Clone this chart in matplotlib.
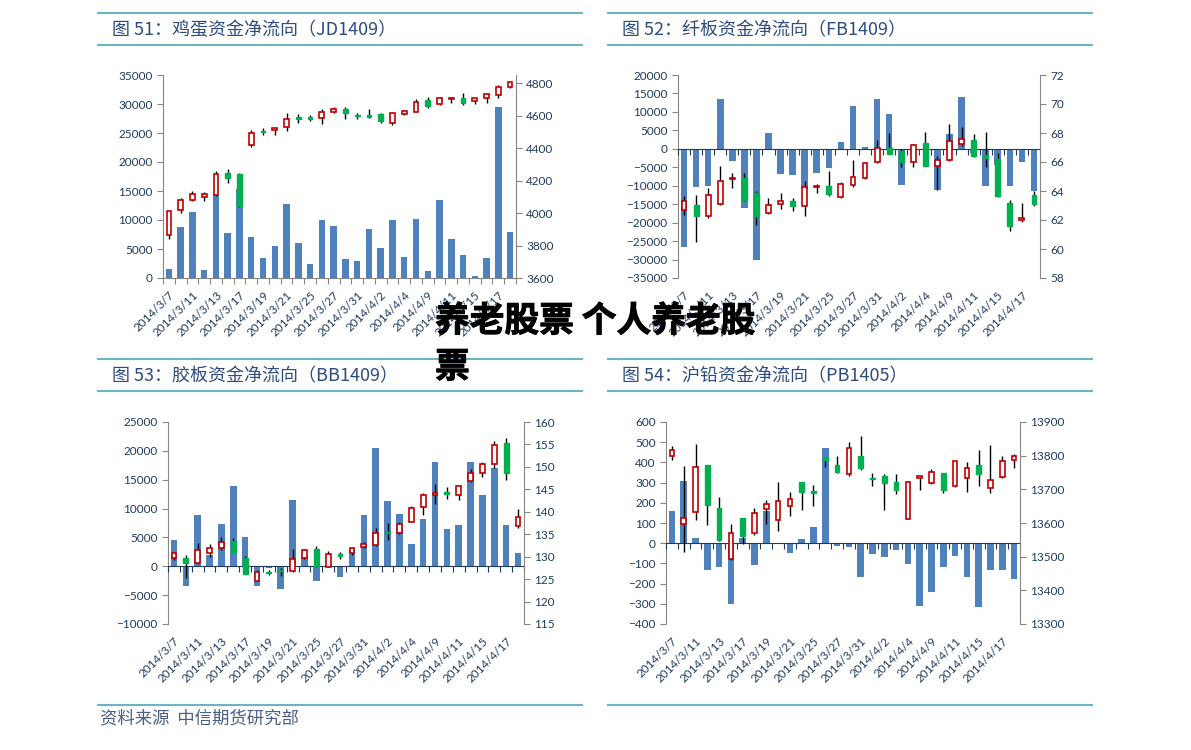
import matplotlib
matplotlib.use('Agg')
import matplotlib.pyplot as plt
import matplotlib.patheffects as pe
from matplotlib.lines import Line2D
import numpy as np

plt.rcParams['font.family'] = ['Lato', 'Noto Sans CJK SC', 'DejaVu Sans']

dates = ['2014/3/7', '2014/3/10', '2014/3/11', '2014/3/12', '2014/3/13', '2014/3/14',
         '2014/3/17', '2014/3/18', '2014/3/19', '2014/3/20', '2014/3/21', '2014/3/24',
         '2014/3/25', '2014/3/26', '2014/3/27', '2014/3/28', '2014/3/31', '2014/4/1',
         '2014/4/2', '2014/4/3', '2014/4/4', '2014/4/8', '2014/4/9', '2014/4/10',
         '2014/4/11', '2014/4/14', '2014/4/15', '2014/4/16', '2014/4/17', '2014/4/18']

# 图51 鸡蛋 JD1409
jd_flow = [1550, 8750, 11400, 1440, 14280, 7770, 15370, 7080, 3450, 5470, 12840, 6100, 2420, 9960, 8920,
           3280, 2880, 8520, 5240, 9960, 3630, 10190, 1150, 13470, 6740, 4030, 345, 3450, 29420, 7940]
jd_open = [3867, 4018, 4080, 4100, 4114, 4244, 4242, 4419, 4505, 4510, 4532, 4594, 4594, 4588, 4625,
           4643, 4606, 4606, 4608, 4557, 4608, 4625, 4697, 4670, 4701, 4711, 4691, 4711, 4728, 4779]
jd_close = [4012, 4080, 4119, 4119, 4238, 4217, 4042, 4495, 4499, 4524, 4582, 4578, 4582, 4625, 4639,
            4619, 4598, 4594, 4567, 4619, 4629, 4685, 4660, 4707, 4711, 4680, 4707, 4732, 4779, 4804]
jd_high = [4015, 4094, 4135, 4129, 4259, 4269, 4244, 4510, 4526, 4526, 4615, 4608, 4604, 4643, 4654,
           4654, 4619, 4643, 4619, 4625, 4633, 4701, 4715, 4715, 4715, 4738, 4711, 4736, 4787, 4808]
jd_low = [3841, 4001, 4073, 4073, 4108, 4182, 4040, 4409, 4479, 4479, 4505, 4557, 4567, 4547, 4619,
          4582, 4578, 4584, 4557, 4541, 4604, 4623, 4645, 4666, 4680, 4664, 4670, 4680, 4707, 4767]

# 图52 纤板 FB1409
fb_flow = [-26500, -10300, -10000, 13400, -3200, -16100, -30100, 4400, -6850, -7200, -11000, -6500, -5150,
           1800, 11500, 400, 13400, 9550, -9750, -300, -400, -11200, 4000, 14000, -1200, -10100, -4500,
           -10100, -3500, -11300]
fb_open = [62.70, 63.05, 62.25, 63.12, 64.82, 64.93, 63.85, 62.48, 63.12, 63.30, 63.00, 64.27, 64.36, 63.58,
           64.40, 64.89, 66.03, 67.00, 66.79, 66.03, 67.30, 65.73, 66.15, 67.23, 67.52, 66.49, 66.22, 63.16,
           62.02, 63.74]
fb_close = [63.32, 62.25, 63.74, 64.72, 64.93, 63.39, 62.25, 63.03, 63.28, 63.00, 64.27, 64.36, 63.81, 64.50,
            65.00, 65.92, 66.95, 66.56, 66.03, 67.18, 65.73, 66.15, 67.46, 67.59, 66.38, 66.26, 63.67, 61.60,
            62.11, 63.12]
fb_high = [63.67, 63.74, 64.20, 65.69, 65.23, 65.23, 63.97, 63.55, 63.85, 63.55, 64.72, 64.50, 65.39, 64.59,
           66.15, 66.00, 67.52, 67.98, 66.88, 67.25, 68.10, 66.38, 68.60, 68.44, 67.94, 68.10, 66.61, 63.39,
           63.16, 63.97]
fb_low = [62.36, 60.46, 62.11, 63.03, 64.24, 63.28, 61.63, 62.38, 62.77, 62.59, 62.29, 63.85, 63.67, 63.53,
          64.31, 64.86, 65.96, 66.54, 65.64, 65.64, 65.69, 64.08, 66.10, 67.11, 66.33, 65.64, 63.62, 61.21,
          61.83, 63.00]

# 图53 胶板 BB1409
bb_flow = [4600, -3400, 8800, 1900, 7400, 13900, 5000, -3500, -300, -3950, 11500, 1600, -2550, 200, -1850,
           3050, 8800, 20500, 11300, 9050, 3900, 8250, 18000, 6400, 7200, 18000, 12300, 17050, 7200, 2300]
bb_open = [129.66, 129.80, 128.69, 130.77, 131.88, 133.50, 129.66, 124.62, 126.69, 127.00, 126.77, 129.66,
           131.65, 127.80, 130.60, 130.77, 132.10, 132.62, 135.58, 135.21, 137.80, 140.98, 143.65, 144.31,
           143.72, 146.90, 148.53, 150.60, 155.34, 136.84]
bb_close = [130.77, 128.69, 131.51, 131.88, 133.36, 131.14, 126.18, 126.55, 126.33, 126.70, 129.43, 131.51,
            127.95, 130.54, 130.25, 131.88, 132.76, 135.36, 135.36, 137.28, 140.91, 143.72, 144.24, 143.94,
            145.72, 148.53, 150.75, 154.97, 148.75, 138.91]
bb_high = [131.14, 130.40, 133.14, 132.76, 134.47, 134.24, 130.25, 127.06, 127.06, 127.40, 131.65, 131.65,
           132.39, 131.28, 131.14, 132.25, 133.36, 136.32, 137.43, 137.80, 141.28, 144.09, 146.16, 145.57,
           145.94, 149.42, 151.12, 155.71, 156.53, 140.54]
bb_low = [129.29, 125.21, 128.40, 130.03, 131.51, 130.99, 126.10, 124.47, 125.95, 125.80, 126.62, 129.43,
          127.80, 127.66, 129.51, 130.40, 131.88, 132.39, 133.73, 135.06, 137.65, 139.28, 141.72, 142.76,
          142.61, 146.53, 147.79, 149.86, 147.05, 136.47]

# 图54 沪铅 PB1405
pb_flow = [157, 310, 25, -132, -120, -301, 25, -107, 157, -2, -49, 20, 82, 470, -13, -20, -165, -54, -66,
           -33, -102, -313, -242, -119, -61, -165, -316, -132, -132, -178]
pb_open = [13798, 13596, 13633, 13771, 13645, 13492, 13616, 13569, 13641, 13608, 13651, 13722, 13695, 13796,
           13771, 13745, 13798, 13735, 13739, 13722, 13613, 13734, 13719, 13749, 13709, 13734, 13771, 13704,
           13737, 13788]
pb_close = [13816, 13615, 13765, 13653, 13549, 13571, 13561, 13630, 13656, 13666, 13670, 13692, 13690, 13786,
            13752, 13823, 13762, 13731, 13719, 13697, 13722, 13739, 13750, 13697, 13783, 13762, 13745, 13729,
            13784, 13798]
pb_high = [13829, 13770, 13834, 13771, 13676, 13598, 13616, 13646, 13668, 13722, 13692, 13722, 13712, 13796,
           13798, 13841, 13857, 13749, 13745, 13745, 13724, 13739, 13759, 13749, 13783, 13781, 13818, 13831,
           13798, 13806]
pb_low = [13786, 13514, 13608, 13594, 13547, 13490, 13539, 13564, 13598, 13577, 13620, 13640, 13651, 13767,
          13750, 13740, 13757, 13709, 13640, 13687, 13611, 13699, 13717, 13689, 13707, 13692, 13709, 13689,
          13735, 13762]

BLUE = '#4F81BD'
RED = '#C00000'
GREEN = '#00B050'
GREY = '#868686'
NAVY = '#1F3A5F'
TEAL = '#6DB3C4'
TITLE = '#2E4C7E'

W, H = 1191, 750
fig = plt.figure(figsize=(W / 100, H / 100), dpi=100)


def px_rect(left, right, top, bottom):
    return [left / W, 1 - bottom / H, (right - left) / W, (bottom - top) / H]


def draw_panel(rect, flow, o, hi, lo, c, lylim, lyticks, rylim, ryticks, zero_color):
    ax = fig.add_axes(rect)
    x = np.arange(len(dates))
    ax.bar(x, flow, width=0.55, color=BLUE, zorder=1)
    ax.set_xlim(-0.5, len(dates) - 0.5)
    ax.set_ylim(*lylim)
    ax.set_yticks(lyticks)
    for s in ['top', 'right', 'bottom']:
        ax.spines[s].set_visible(False)
    ax.spines['left'].set_color(GREY)
    ax.tick_params(axis='y', colors=GREY, labelcolor=NAVY, labelsize=8.5, length=4, direction='out')
    ax.set_xticks(x[::2])
    ax.set_xticklabels(dates[::2], rotation=45, ha='right', rotation_mode='anchor')
    ax.tick_params(axis='x', length=0, labelsize=8.5, labelcolor=NAVY, pad=8)

    # category axis sitting at y = 0
    sec = ax.secondary_xaxis(0, transform=ax.transData)
    sec.set_xticks(np.arange(-0.5, len(dates), 1))
    sec.set_xticklabels([])
    sec.tick_params(axis='x', length=4, direction='out', colors=zero_color, width=0.8)
    sec.spines['bottom'].set_color(zero_color)
    sec.set_zorder(3)

    ax2 = ax.twinx()
    o, hi, lo, c = map(np.array, (o, hi, lo, c))
    up = c >= o
    ax2.vlines(x, lo, hi, color='black', lw=1.0, zorder=2)
    bottom = np.minimum(o, c)
    height = np.abs(c - o)
    ax2.bar(x[up], height[up], bottom=bottom[up], width=0.4, facecolor='white',
            edgecolor=RED, lw=1.2, zorder=3)
    ax2.bar(x[~up], height[~up], bottom=bottom[~up], width=0.4, facecolor=GREEN,
            edgecolor=GREEN, lw=1.0, zorder=3)
    ax2.set_ylim(*rylim)
    ax2.set_yticks(ryticks)
    for s in ['top', 'left', 'bottom']:
        ax2.spines[s].set_visible(False)
    ax2.spines['right'].set_color(GREY)
    ax2.tick_params(axis='y', colors=GREY, labelcolor=NAVY, labelsize=8.5, length=4, direction='out')
    return ax, ax2


draw_panel(px_rect(163, 516, 75, 278), jd_flow, jd_open, jd_high, jd_low, jd_close,
           (0, 35000), np.arange(0, 35001, 5000), (3600, 4850), np.arange(3600, 4801, 200), GREY)
draw_panel(px_rect(678, 1040, 75, 278), fb_flow, fb_open, fb_high, fb_low, fb_close,
           (-35000, 20000), np.arange(-35000, 20001, 5000), (58, 72), np.arange(58, 73, 2), NAVY)
draw_panel(px_rect(168, 524, 422, 624), bb_flow, bb_open, bb_high, bb_low, bb_close,
           (-10000, 25000), np.arange(-10000, 25001, 5000), (115, 160), np.arange(115, 161, 5), NAVY)
draw_panel(px_rect(666, 1020, 422, 624), pb_flow, pb_open, pb_high, pb_low, pb_close,
           (-400, 600), np.arange(-400, 601, 100), (13300, 13900), np.arange(13300, 13901, 100), NAVY)

cjk = ['Noto Sans CJK SC', 'DejaVu Sans']

# header bands
headers = [(98, 582, 13, 45, '图 51：鸡蛋资金净流向（JD1409）'),
           (608, 1092, 13, 45, '图 52：纤板资金净流向（FB1409）'),
           (98, 582, 359, 391, '图 53：胶板资金净流向（BB1409）'),
           (608, 1092, 359, 391, '图 54：沪铅资金净流向（PB1405）')]
for x0, x1, y0, y1, title in headers:
    for yy in (y0, y1):
        fig.add_artist(Line2D([x0 / W, x1 / W], [1 - yy / H, 1 - yy / H], color=TEAL, lw=1.5))
    fig.text((x0 + 14) / W, 1 - ((y0 + y1) / 2 + 1) / H, title, fontsize=13, color=TITLE,
             va='center', ha='left', family=cjk)

# footer
for x0, x1 in [(98, 582), (608, 1092)]:
    fig.add_artist(Line2D([x0 / W, x1 / W], [1 - 705 / H, 1 - 705 / H], color=TEAL, lw=1.5))
fig.text(100 / W, 1 - 718 / H, '资料来源  中信期货研究部', fontsize=12.5, color='#4A5F85',
         va='center', ha='left', family=cjk)

# overlay headline
bold = [pe.withStroke(linewidth=0.7, foreground='black')]
fig.text(435 / W, 1 - 321 / H, '养老股票 个人养老股', fontsize=25, weight='black', color='black',
         va='center', ha='left', family=cjk, path_effects=bold)
fig.text(435 / W, 1 - 367 / H, '票', fontsize=25, weight='black', color='black',
         va='center', ha='left', family=cjk, path_effects=bold)

fig.savefig('out.png', dpi=100)
